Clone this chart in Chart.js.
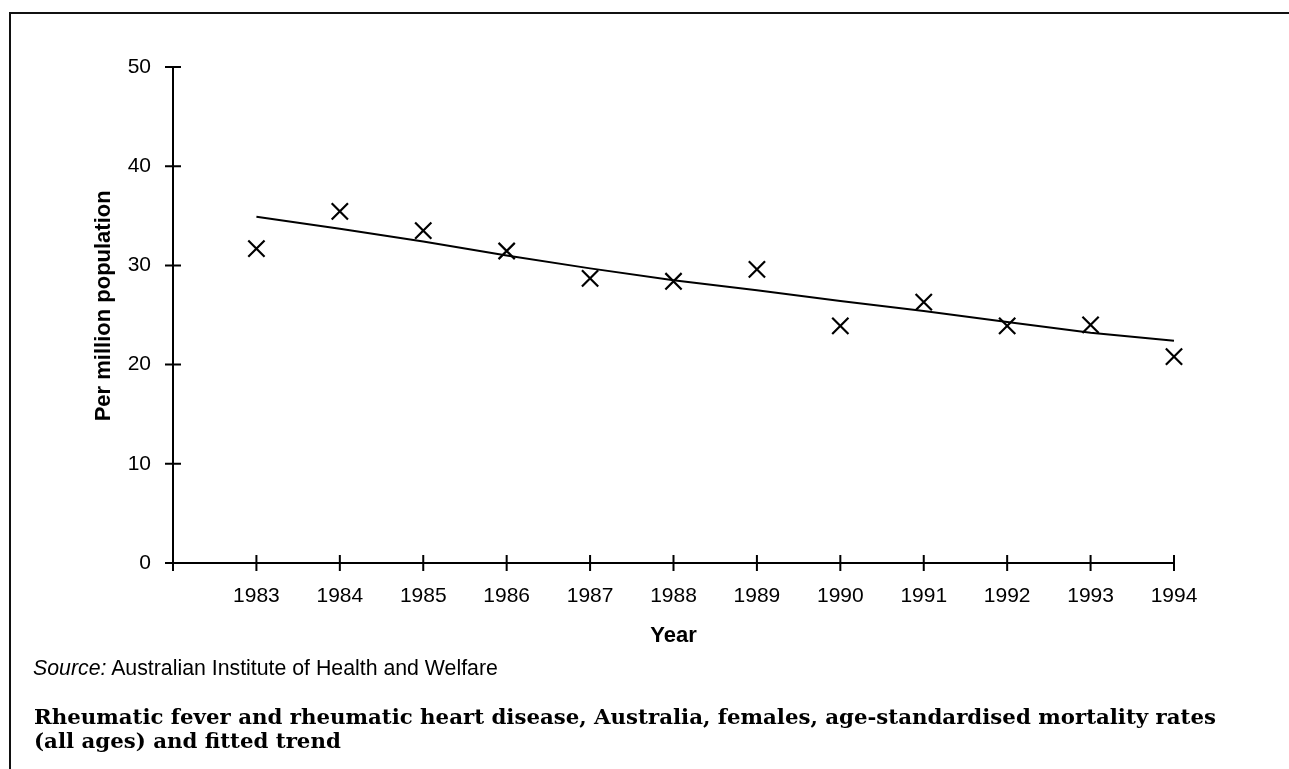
<!DOCTYPE html>
<html>
<head>
<meta charset="utf-8">
<script src="https://cdn.jsdelivr.net/npm/chart.js@4.4.0/dist/chart.umd.min.js"></script>
<style>
  html, body { margin: 0; padding: 0; background: #fff; }
  #wrap { position: absolute; left: 0; top: 0; width: 1289px; height: 769px; }
  #frame { position: absolute; left: 9px; top: 12px; width: 1300px; height: 800px;
           border-top: 2px solid #111; border-left: 2px solid #111; }
  #source { position: absolute; left: 33px; top: 658px; font: 21.3px "Liberation Sans", Arial, sans-serif;
            line-height: 1; color: #000; white-space: nowrap; }
  #title { position: absolute; left: 34px; top: 705px; font: bold 21.3px "DejaVu Serif", serif;
           line-height: 24px; color: #000; white-space: nowrap; }
</style>
</head>
<body>
<div id="frame"></div>
<div id="wrap"><canvas id="chart"></canvas></div>
<div id="source"><i>Source:</i> Australian Institute of Health and Welfare</div>
<div id="title">Rheumatic fever and rheumatic heart disease, Australia, females, age-standardised mortality rates<br>(all ages) and fitted trend</div>
<script>
// tahun dan nilai
const years = [1983, 1984, 1985, 1986, 1987, 1988, 1989, 1990, 1991, 1992, 1993, 1994];
const rates = [31.7, 35.45, 33.5, 31.45, 28.7, 28.4, 29.6, 23.9, 26.3, 23.9, 24.0, 20.8];
const trend = [34.9, 33.7, 32.4, 31.0, 29.7, 28.5, 27.5, 26.4, 25.4, 24.3, 23.2, 22.4];

const yTicks = [0, 10, 20, 30, 40, 50];
const xMin = 1982;
const xMax = 1994;

const tickFont = { family: '"Liberation Sans", Arial, sans-serif', size: 21 };
const axisTitleFont = { family: '"Liberation Sans", Arial, sans-serif', size: 22, weight: 'bold' };

// tick menyilang sumbu (bukan hanya keluar)
const crossTicks = {
  id: 'crossTicks',
  afterDraw(chart) {
    const { ctx, chartArea, scales: { x, y } } = chart;
    ctx.save();
    ctx.strokeStyle = '#000';
    ctx.lineWidth = 2;
    ctx.beginPath();
    x.ticks.forEach(t => {
      const px = x.getPixelForValue(t.value);
      ctx.moveTo(px, chartArea.bottom - 8);
      ctx.lineTo(px, chartArea.bottom + 8);
    });
    y.ticks.forEach(t => {
      const py = y.getPixelForValue(t.value);
      ctx.moveTo(chartArea.left - 8, py);
      ctx.lineTo(chartArea.left + 8, py);
    });
    ctx.stroke();
    ctx.restore();
  }
};

new Chart(document.getElementById('chart'), {
  type: 'scatter',
  data: {
    datasets: [
      {
        label: 'Fitted trend',
        data: years.map((yr, i) => ({ x: yr, y: trend[i] })),
        showLine: true,
        borderColor: '#000',
        borderWidth: 2,
        pointRadius: 0,
        clip: false,
      },
      {
        label: 'Mortality rate',
        data: years.map((yr, i) => ({ x: yr, y: rates[i] })),
        showLine: false,
        pointStyle: 'crossRot',
        pointRadius: 11.5,
        borderColor: '#000',
        borderWidth: 2.2,
        clip: false,
      },
    ],
  },
  options: {
    responsive: true,
    maintainAspectRatio: false,
    animation: false,
    layout: { padding: { top: 67, right: 115, left: 0, bottom: 106 } },
    plugins: { legend: { display: false }, tooltip: { enabled: false } },
    scales: {
      x: {
        type: 'linear',
        min: xMin,
        max: xMax,
        afterFit: (s) => { s.height = 100; },
        afterBuildTicks: (s) => {
          s.ticks = [xMin].concat(years).map(v => ({ value: v }));
        },
        ticks: {
          color: '#000',
          font: tickFont,
          padding: 21,
          maxRotation: 0,
          callback: (v) => (v === xMin ? '' : String(v)),
        },
        grid: { display: false, drawTicks: false },
        border: { display: true, color: '#000', width: 2 },
        title: { display: true, text: 'Year', color: '#000', font: axisTitleFont, padding: { top: 0, bottom: 13.8 } },
      },
      y: {
        min: 0,
        max: 50,
        afterFit: (s) => { s.width = 173; },
        afterBuildTicks: (s) => { s.ticks = yTicks.map(v => ({ value: v })); },
        ticks: { color: '#000', font: tickFont, padding: 22 },
        grid: { display: false, drawTicks: false },
        border: { display: true, color: '#000', width: 2 },
        // spasi di depan menggeser judul sedikit ke atas
        title: { display: true, text: '   Per million population', color: '#000', font: axisTitleFont, padding: { top: 90.8, bottom: 0 } },
      },
    },
  },
  plugins: [crossTicks],
});
</script>
</body>
</html>
